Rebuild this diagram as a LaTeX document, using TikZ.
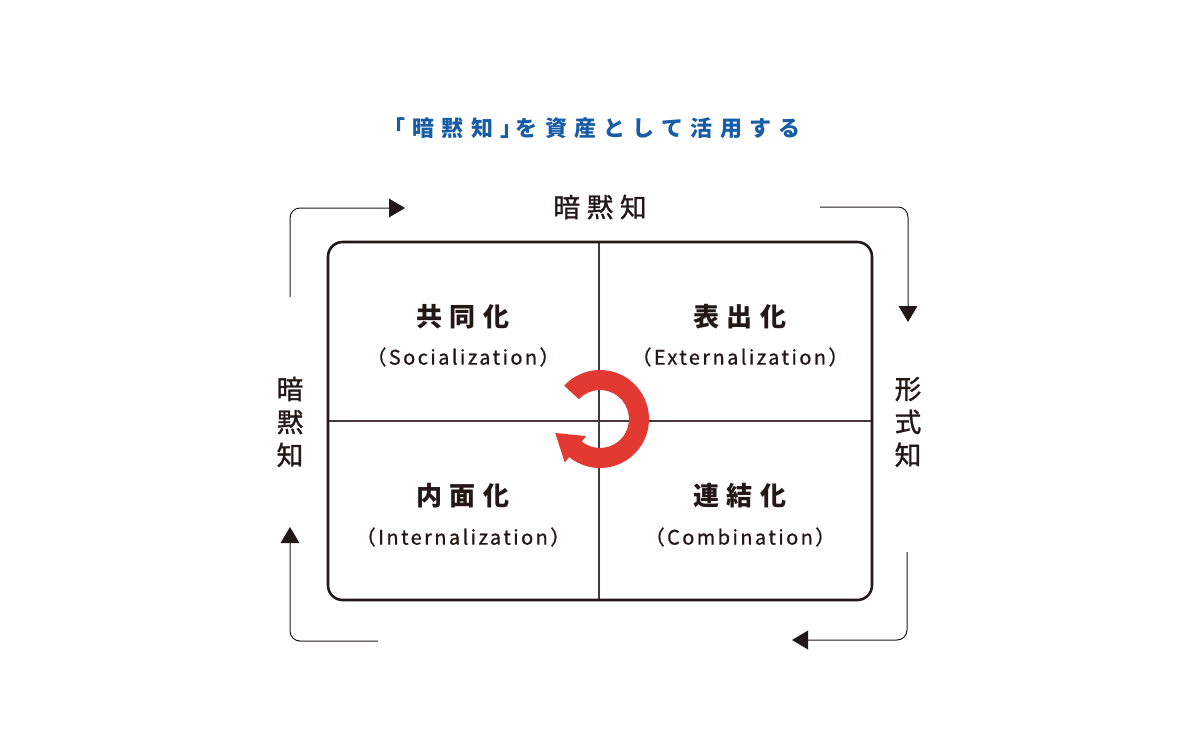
\documentclass[tikz,border=0pt]{standalone}
\usepackage{fontspec}
\setmainfont{Noto Sans CJK JP}
\newfontfamily\jp{Noto Sans CJK JP}
\newfontfamily\jpm[FakeBold=1.2]{Noto Sans CJK JP}
\newfontfamily\jps[FakeBold=0.8]{Noto Sans CJK JP}
\usetikzlibrary{arrows.meta,calc}
\definecolor{ink}{RGB}{35,24,21}
\definecolor{blu}{RGB}{22,92,166}
\definecolor{rd}{RGB}{226,58,50}
\tikzset{
  frame/.style={draw=ink, line width=1.95pt, rounded corners=11pt},
  divider/.style={draw=ink!85, line width=0.8pt},
  flow/.style={draw=ink, line width=0.75pt, rounded corners=7.5pt, -{Triangle[length=12pt,width=14pt]}},
  headline/.style={text=blu, font=\jp\fontsize{16.5pt}{20pt}\selectfont\bfseries\addfontfeatures{LetterSpace=33}},
  sidelabel/.style={text=ink, font=\jpm\fontsize{20pt}{24pt}\selectfont\addfontfeatures{LetterSpace=25}},
  vlabel/.style={text=ink, align=center, font=\jpm\fontsize{20pt}{24.75pt}\selectfont},
  qtitle/.style={text=ink, font=\jp\fontsize{19.5pt}{24pt}\selectfont\bfseries\addfontfeatures{LetterSpace=28}},
  qsub/.style={text=ink, font=\jps\fontsize{15pt}{18pt}\selectfont\addfontfeatures{LetterSpace=12}},
}
\begin{document}
\begin{tikzpicture}[x=0.75pt,y=-0.75pt]
\useasboundingbox (0,0) rectangle (1200,750);
% frame and quadrants
\coordinate (tl) at (328,242);
\coordinate (br) at (872,600);
\coordinate (vt) at (599,242);
\coordinate (vb) at (599,600);
\coordinate (hl) at (328,421);
\coordinate (hr) at (872,421);
\draw[divider] (vt) -- (vb);
\draw[divider] (hl) -- (hr);
\draw[frame] (tl) rectangle (br);
% circular arrow
\coordinate (c) at (600,419);
\fill[rd] ($(c)+(-137:49)$) arc[start angle=-137, end angle=129, radius=49]
  -- ($(c)+(129:56)$) -- ($(c)+(129:39)+(219:26)$) -- ($(c)+(129:22)$)
  -- ($(c)+(129:29)$) arc[start angle=129, end angle=-137, radius=29] -- cycle;
% outer flow arrows
\coordinate (a1s) at (290,297); \coordinate (a1c) at (290,208); \coordinate (a1e) at (405,208);
\coordinate (a2s) at (820,207); \coordinate (a2c) at (908,207); \coordinate (a2e) at (908,322);
\coordinate (a3s) at (907,552); \coordinate (a3c) at (907,640); \coordinate (a3e) at (792,640);
\coordinate (a4s) at (378,641); \coordinate (a4c) at (290,641); \coordinate (a4e) at (290,527);
\draw[flow] (a1s) -- (a1c) -- (a1e);
\draw[flow] (a2s) -- (a2c) -- (a2e);
\draw[flow] (a3s) -- (a3c) -- (a3e);
\draw[flow] (a4s) -- (a4c) -- (a4e);
% texts
\node[headline] (title) at (592,128) {「暗黙知」\kern-0.3emを資産として活用する};
\node[sidelabel] (top) at (600,207) {暗黙知};
\node[vlabel] (left) at (290,422) {暗\\黙\\知};
\node[vlabel] (right) at (908,422) {形\\式\\知};
\node[qtitle] (q1) at (463,317) {共同化};
\node[qsub] (q1s) at (463,357) {（Socialization）};
\node[qtitle] (q2) at (740,317) {表出化};
\node[qsub] (q2s) at (740,357) {（Externalization）};
\node[qtitle] (q3) at (463,496) {内面化};
\node[qsub] (q3s) at (463,537) {（Internalization）};
\node[qtitle] (q4) at (740,496) {連結化};
\node[qsub] (q4s) at (740,537) {（Combination）};
\end{tikzpicture}
\end{document}
